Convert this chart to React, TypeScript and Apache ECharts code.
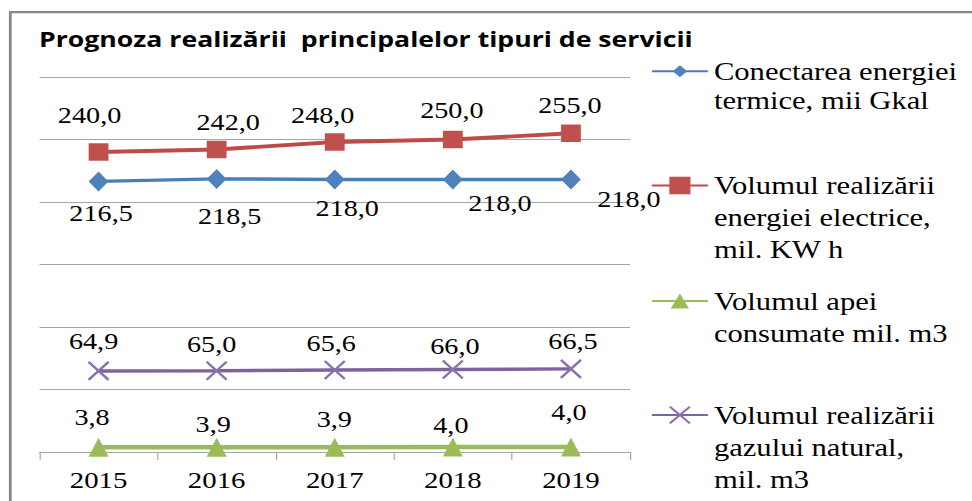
import React, { useEffect, useRef } from 'react';
import * as echarts from 'echarts';

// ---- data ----
const categories = ['2015', '2016', '2017', '2018', '2019'];
const thermal = [216.5, 218.5, 218.0, 218.0, 218.0];
const electric = [240.0, 242.0, 248.0, 250.0, 255.0];
const water = [3.8, 3.9, 3.9, 4.0, 4.0];
const gas = [64.9, 65.0, 65.6, 66.0, 66.5];

const seriesNames = [
  'Conectarea energiei termice, mii Gkal',
  'Volumul realizării energiei electrice, mil. KW h',
  'Volumul apei consumate mil. m3',
  'Volumul realizării gazului natural, mil. m3',
];
const legendLines = [
  ['Conectarea energiei', 'termice, mii Gkal'],
  ['Volumul realizării', 'energiei electrice,', 'mil. KW h'],
  ['Volumul apei', 'consumate mil. m3'],
  ['Volumul realizării', 'gazului natural,', 'mil. m3'],
];
const titleText = 'Prognoza realizării  principalelor tipuri de servicii';

// ---- layout (screen px) ----
const SX = 1.2; // horizontal stretch of the reference picture
const W = 972;
const H = 501;
const SERIF = '"Liberation Serif", "Times New Roman", Times, serif';
const thermalShift = [[2.5, 32], [13, 37.6], [12.5, 29], [47, 23.5], [58, 19.5]];
const electricShift = [[-9, -36.5], [11.5, -27], [-12, -26.5], [-1, -29.5], [-1, -27.75]];
const waterShift = [[-6.5, -29.75], [-3.5, -23], [-0.5, -27.6], [-2, -22], [-2, -35]];
const gasShift = [[-5, -29.4], [-5, -26.75], [-3.5, -26.5], [2, -23.5], [2, -28]];

const legendIconY = [71.2, 185.5, 301, 415];
const legendLineH = [29, 32, 32, 32];
const legendItemH = [15, 22, 19, 21];

const colors = {
  blue: '#4f81bd',
  red: '#c0504d',
  green: '#9bbb59',
  purple: '#8064a2',
};

const fmt = (p: any) => Number(p.value).toFixed(1).replace('.', ',');

const labelBase = {
  show: true,
  position: 'inside',
  formatter: fmt,
  fontFamily: SERIF,
  fontSize: 23.5,
  color: '#000',
};

function mkData(values: number[], shifts: number[][]) {
  return values.map((v, i) => ({
    value: v,
    label: { offset: [shifts[i][0] / SX, shifts[i][1]] },
  }));
}

function buildOption() {
  const series = [
    {
      type: 'line',
      name: seriesNames[0],
      data: mkData(thermal, thermalShift),
      symbol: 'diamond',
      symbolSize: [16.5, 20],
      lineStyle: { color: '#4a7ebb', width: 3.5 },
      itemStyle: { color: colors.blue },
      label: labelBase,
      z: 3,
    },
    {
      type: 'line',
      name: seriesNames[1],
      data: mkData(electric, electricShift),
      symbol: 'rect',
      symbolSize: [16.5, 17.5],
      lineStyle: { color: '#be4b48', width: 3.8 },
      itemStyle: { color: colors.red },
      label: labelBase,
      z: 3,
    },
    {
      type: 'line',
      name: seriesNames[2],
      data: mkData(water, waterShift),
      symbol: 'triangle',
      symbolSize: [16.7, 19],
      lineStyle: { color: colors.green, width: 4.5 },
      itemStyle: { color: colors.green },
      label: labelBase,
      z: 3,
    },
    {
      type: 'line',
      name: seriesNames[3],
      data: mkData(gas, gasShift),
      symbol: 'path://M0,0L10,10M10,0L0,10',
      symbolSize: [16.7, 18],
      lineStyle: { color: '#7f63a1', width: 3.5 },
      itemStyle: { color: colors.purple, borderColor: '#8a70ad', borderWidth: 2.2 },
      label: labelBase,
      z: 3,
    },
  ];

  // Text is centred on the legend icon; leading blank lines put the first
  // text line level with the icon, as in the reference.
  const legend = seriesNames.map((name, i) => {
    const lines = legendLines[i];
    const n = lines.length;
    const lh = legendLineH[i];
    const text = '\n'.repeat(n - 1) + lines.join('\n');
    return {
      data: [name],
      orient: 'vertical',
      left: 650.7 / SX,
      top: legendIconY[i] - (n - 0.5) * lh,
      padding: 0,
      itemWidth: 56 / SX,
      itemHeight: legendItemH[i],
      selectedMode: false,
      formatter: () => text,
      textStyle: {
        fontFamily: SERIF,
        fontSize: 25.5,
        lineHeight: lh,
        color: '#000',
      },
    };
  });

  return {
    animation: false,
    backgroundColor: '#fff',
    title: {
      text: titleText,
      left: 39 / SX,
      top: 26.5,
      padding: 0,
      textStyle: {
        fontFamily: '"Open Sans"',
        fontWeight: 'bold',
        fontSize: 22.2,
        lineHeight: 24,
        color: '#000',
      },
    },
    legend,
    grid: { left: 39.5 / SX, top: 77, width: 590.5 / SX, height: 375, containLabel: false },
    xAxis: {
      type: 'category',
      data: categories,
      boundaryGap: true,
      axisLine: { lineStyle: { color: '#a6a6a6', width: 1 } },
      axisTick: { show: true, length: 8, lineStyle: { color: '#a6a6a6' } },
      axisLabel: { fontFamily: SERIF, fontSize: 24, color: '#000', margin: 16 },
    },
    yAxis: {
      type: 'value',
      min: 0,
      max: 300,
      interval: 50,
      axisLabel: { show: false },
      axisLine: { show: false },
      axisTick: { show: false },
      splitLine: { lineStyle: { color: '#a6a6a6', width: 1 } },
    },
    graphic: [
      {
        type: 'rect',
        silent: true,
        z: -10,
        shape: { x: 10.3 / SX, y: 12.2, width: 1200, height: 1200 },
        style: { fill: 'none', stroke: '#878787', lineWidth: 2.3 },
      },
    ],
    series,
  };
}

export default function App() {
  const ref = useRef<HTMLDivElement>(null);
  useEffect(() => {
    if (!ref.current) return;
    const chart = echarts.init(ref.current, null, { renderer: 'svg' });
    chart.setOption(buildOption() as any);
    return () => chart.dispose();
  }, []);
  return (
    <div
      style={{
        position: 'absolute',
        left: 0,
        top: 0,
        width: W,
        height: H,
        overflow: 'hidden',
        background: '#fff',
      }}
    >
      <div
        ref={ref}
        style={{
          width: W / SX,
          height: H,
          transform: `scaleX(${SX})`,
          transformOrigin: '0 0',
        }}
      />
    </div>
  );
}
